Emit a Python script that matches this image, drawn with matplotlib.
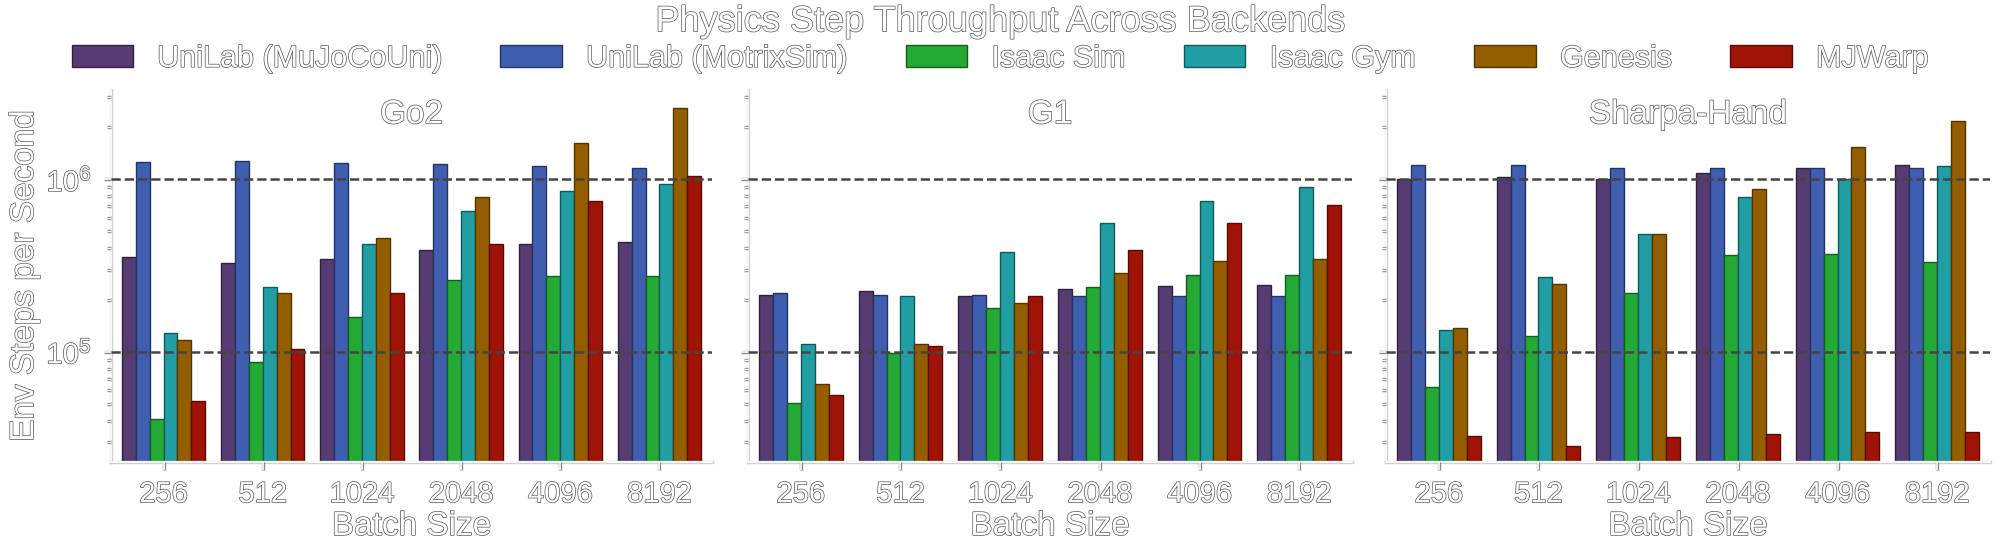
import numpy as np
import matplotlib
matplotlib.use("Agg")
import matplotlib.pyplot as plt
import matplotlib.patheffects as pe
from matplotlib.ticker import LogLocator, NullFormatter

plt.rcParams['font.family'] = ['Liberation Sans', 'DejaVu Sans']
plt.rcParams['mathtext.fontset'] = 'custom'
plt.rcParams['mathtext.rm'] = 'Liberation Sans'
plt.rcParams['mathtext.it'] = 'Liberation Sans:italic'

# batch sizes and backends
batch_sizes = ['256', '512', '1024', '2048', '4096', '8192']
backends = ['UniLab (MuJoCoUni)', 'UniLab (MotrixSim)', 'Isaac Sim',
            'Isaac Gym', 'Genesis', 'MJWarp']
colors = ['#573c73', '#3f5eb0', '#24aa34', '#209ea3', '#945e00', '#a01408']
robots = ['Go2', 'G1', 'Sharpa-Hand']

# env steps per second, one row per backend
go2_values = [
    [3.54e5, 3.30e5, 3.44e5, 3.89e5, 4.22e5, 4.33e5],
    [1.26e6, 1.28e6, 1.24e6, 1.23e6, 1.19e6, 1.16e6],
    [4.07e4, 8.8e4, 1.60e5, 2.63e5, 2.75e5, 2.74e5],
    [1.28e5, 2.39e5, 4.22e5, 6.55e5, 8.52e5, 9.44e5],
    [1.17e5, 2.19e5, 4.55e5, 7.86e5, 1.62e6, 2.58e6],
    [5.18e4, 1.04e5, 2.19e5, 4.22e5, 7.49e5, 1.05e6],
]
g1_values = [
    [2.15e5, 2.25e5, 2.12e5, 2.31e5, 2.40e5, 2.44e5],
    [2.19e5, 2.15e5, 2.14e5, 2.12e5, 2.12e5, 2.12e5],
    [5.05e4, 9.92e4, 1.79e5, 2.39e5, 2.79e5, 2.79e5],
    [1.12e5, 2.10e5, 3.82e5, 5.56e5, 7.45e5, 9.07e5],
    [6.56e4, 1.12e5, 1.93e5, 2.86e5, 3.36e5, 3.48e5],
    [5.64e4, 1.09e5, 2.10e5, 3.89e5, 5.61e5, 7.10e5],
]
sharpa_values = [
    [1.00e6, 1.03e6, 1.00e6, 1.09e6, 1.16e6, 1.22e6],
    [1.22e6, 1.22e6, 1.17e6, 1.17e6, 1.16e6, 1.16e6],
    [6.24e4, 1.23e5, 2.19e5, 3.67e5, 3.72e5, 3.31e5],
    [1.35e5, 2.73e5, 4.80e5, 7.86e5, 1.00e6, 1.19e6],
    [1.37e5, 2.47e5, 4.80e5, 8.75e5, 1.54e6, 2.19e6],
    [3.27e4, 2.84e4, 3.20e4, 3.33e4, 3.42e4, 3.46e4],
]
all_values = [go2_values, g1_values, sharpa_values]

# white text with a thin dark outline
outline = [pe.Stroke(linewidth=1.0, foreground='#555555'), pe.Normal()]
tick_outline = [pe.Stroke(linewidth=2.4, foreground='#888888'), pe.Normal()]
spine_outline = [pe.Stroke(linewidth=2.4, foreground='#d0d0d0'), pe.Normal()]


def darker(c, f=0.55):
    rgb = np.array(matplotlib.colors.to_rgb(c))
    return tuple(rgb * f)


fig = plt.figure(figsize=(20, 5.45), dpi=100)
lefts = [0.0555, 0.374, 0.693]
axes = []
for i, left in enumerate(lefts):
    if i == 0:
        ax = fig.add_axes([left, 0.152, 0.3005, 0.683])
    else:
        ax = fig.add_axes([left, 0.152, 0.302, 0.683], sharey=axes[0])
    axes.append(ax)

x = np.arange(len(batch_sizes))
bar_w = 0.14
for ax, robot, values in zip(axes, robots, all_values):
    for j, name in enumerate(backends):
        ax.bar(x + (j - 2.5) * bar_w, values[j], width=bar_w, color=colors[j],
               edgecolor=darker(colors[j]), linewidth=1.0, label=name)
    ax.set_yscale('log')
    ax.set_ylim(2.3e4, 3.3e6)
    ax.set_xlim(-0.53, 5.53)
    ax.set_xticks(x)
    ax.set_xticklabels(batch_sizes)
    ax.yaxis.set_major_locator(LogLocator(base=10, numticks=10))
    ax.yaxis.set_minor_locator(LogLocator(base=10, subs=np.arange(2, 10), numticks=20))
    ax.yaxis.set_minor_formatter(NullFormatter())
    ax.grid(True, axis='y', which='major', linestyle='--', color='#444444', linewidth=1.8)
    ax.grid(False, axis='x')
    ax.set_axisbelow(False)
    for s in ['top', 'right']:
        ax.spines[s].set_visible(False)
    for s in ['left', 'bottom']:
        ax.spines[s].set_color('white')
        ax.spines[s].set_linewidth(1.2)
        ax.spines[s].set_path_effects(spine_outline)
    ax.tick_params(axis='x', which='major', length=6, width=1.2, color='white',
                   labelsize=21, labelcolor='white', pad=7)
    ax.tick_params(axis='y', which='major', length=5, width=1.2, color='white',
                   labelsize=21, labelcolor='white', pad=9)
    ax.tick_params(axis='y', which='minor', length=3, width=1.0, color='white')
    for t in ax.xaxis.get_major_ticks() + ax.yaxis.get_major_ticks() + ax.yaxis.get_minor_ticks():
        t.tick1line.set_path_effects(tick_outline)
    ax.text(0.5, 0.933, robot, transform=ax.transAxes, ha='center', va='center',
            fontsize=24, color='white', path_effects=outline)
    ax.set_xlabel('Batch Size', fontsize=24, color='white', labelpad=2, path_effects=outline)
    for lab in ax.get_xticklabels() + ax.get_yticklabels():
        lab.set_path_effects(outline)

for ax in axes[1:]:
    ax.tick_params(axis='y', labelleft=False)

axes[0].set_ylabel('Env Steps per Second', fontsize=24, color='white', path_effects=outline)
axes[0].yaxis.set_label_coords(-0.118, 0.5)

fig.text(0.5, 0.96, 'Physics Step Throughput Across Backends', ha='center', va='center',
         fontsize=26, color='white', path_effects=outline)

handles, labels = axes[0].get_legend_handles_labels()
leg = fig.legend(handles, labels, loc='center', bbox_to_anchor=(0.5, 0.892), ncol=6,
                 frameon=False, fontsize=22, handlelength=2.0, handleheight=0.7,
                 handletextpad=0.8, columnspacing=1.93, borderaxespad=0, borderpad=0)
for t in leg.get_texts():
    t.set_color('white')
    t.set_path_effects(outline)

fig.savefig('out.png', dpi=100)
